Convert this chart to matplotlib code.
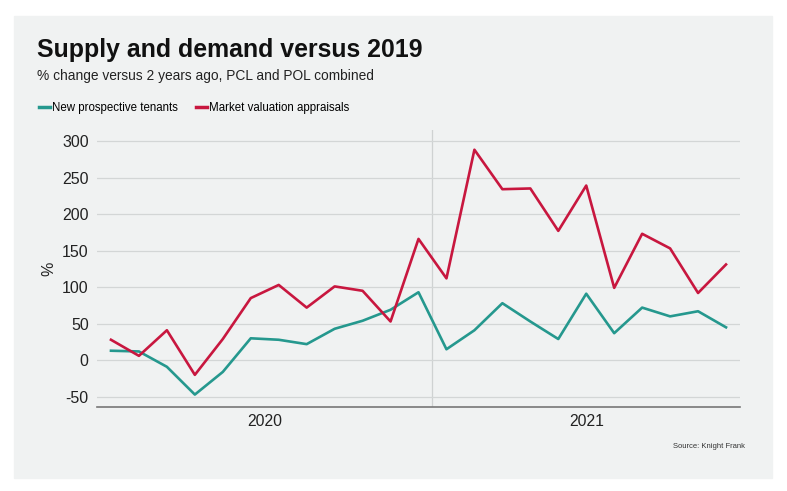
import matplotlib.pyplot as plt
from matplotlib.patches import Rectangle
from matplotlib.lines import Line2D

plt.rcParams['font.family'] = ['Liberation Sans', 'DejaVu Sans']
plt.rcParams['axes.unicode_minus'] = False

# monthly, Jan 2020 .. Nov 2021
months = list(range(23))
tenants = [13, 12, -9, -47, -16, 30, 28, 22, 43, 54, 69, 93,
           15, 41, 78, 53, 29, 91, 37, 72, 60, 67, 45]
appraisals = [28, 6, 41, -20, 29, 85, 103, 72, 101, 95, 53, 166,
              112, 288, 234, 235, 177, 239, 99, 173, 153, 92, 131]
years = ['2020', '2021']
year_centres = [5.5, 17]

teal = '#25988e'
red = '#c8173f'
bg = '#f0f2f2'

fig = plt.figure(figsize=(7.87, 4.91), dpi=100)
fig.patches.append(Rectangle((14 / 787, 1 - 478 / 491), 758 / 787, 462 / 491,
                             transform=fig.transFigure, color=bg, zorder=-10))

ax = fig.add_axes([97 / 787, 1 - 407 / 491, 643 / 787, 277 / 491])
ax.set_facecolor(bg)
ax.plot(months, tenants, color=teal, lw=1.9, zorder=3)
ax.plot(months, appraisals, color=red, lw=1.9, zorder=3)

ax.set_xlim(-0.5, 22.5)
ax.set_ylim(-64, 315)
ax.set_yticks(range(-50, 301, 50))
ax.grid(axis='y', color='#d3d6d6', lw=0.9)
ax.axvline(11.5, color='#cfd2d2', lw=0.9, zorder=1)
ax.set_xticks([])
ax.set_xticks(year_centres, years, minor=True)
ax.tick_params(axis='x', which='minor', length=0, labelsize=11.3, pad=5, colors='#222222')
ax.tick_params(axis='y', length=0, labelsize=11.5, pad=6, colors='#222222')
ax.set_ylabel('%', fontsize=11.5, color='#222222', labelpad=4)
for s in ['top', 'right', 'left']:
    ax.spines[s].set_visible(False)
ax.spines['bottom'].set_color('#777777')
ax.spines['bottom'].set_linewidth(1.2)

fig.text(37 / 787, 1 - 50 / 491, 'Supply and demand versus 2019', fontsize=17.9,
         fontweight='bold', va='center', color='#111111')
fig.text(37 / 787, 1 - 76 / 491, '% change versus 2 years ago, PCL and POL combined',
         fontsize=9.9, va='center', color='#222222')

handles = [Line2D([], [], color=teal, lw=2.5), Line2D([], [], color=red, lw=2.5)]
fig.legend(handles, ['New prospective tenants', 'Market valuation appraisals'],
           loc='center left', bbox_to_anchor=(29 / 787, 1 - 108 / 491), ncol=2,
           frameon=False, fontsize=8.3, handlelength=0.9, handletextpad=0.2,
           columnspacing=1.6)

fig.text(745 / 787, 1 - 447 / 491, 'Source: Knight Frank', fontsize=5.5,
         ha='right', va='center', color='#333333')

fig.savefig('out.png', dpi=100)
